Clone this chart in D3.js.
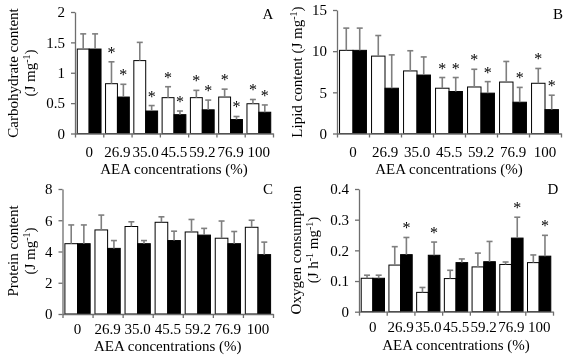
<!DOCTYPE html>
<html>
<head>
<meta charset="utf-8">
<script src="https://cdn.jsdelivr.net/npm/d3@7"></script>
<style>
  html, body { margin: 0; padding: 0; background: #fff; }
  svg { display: block; will-change: transform; }
  text { font-family: "Liberation Serif", "Times New Roman", serif; fill: #000; }
</style>
</head>
<body>
<svg id="chart" width="565" height="357"></svg>
<script>
const categories = ["0", "26.9", "35.0", "45.5", "59.2", "76.9", "100"];
const series = ["control", "treated"];

// Panel A: carbohydrate content
const carbMean  = [[1.39, 0.82, 1.20, 0.59, 0.59, 0.60, 0.49], [1.39, 0.60, 0.37, 0.31, 0.39, 0.23, 0.35]];
const carbErr   = [[0.25, 0.36, 0.30, 0.18, 0.12, 0.13, 0.07], [0.25, 0.21, 0.09, 0.06, 0.16, 0.05, 0.12]];
const carbSig   = [[0, 1, 0, 1, 1, 1, 1], [0, 1, 1, 1, 1, 1, 1]];
const carbTicks = [0, 0.5, 1, 1.5, 2];

// Panel B: lipid content
const lipidMean  = [[10.1, 9.4, 7.6, 5.5, 5.65, 6.25, 6.1], [10.1, 5.5, 7.1, 5.1, 4.9, 3.8, 2.9]];
const lipidErr   = [[2.7, 2.5, 2.45, 1.3, 2.15, 2.5, 1.8], [2.7, 4.05, 2.2, 1.7, 1.4, 1.8, 1.75]];
const lipidSig   = [[0, 0, 0, 1, 1, 0, 1], [0, 0, 0, 1, 1, 1, 1]];
const lipidTicks = [0, 5, 10, 15];

// Panel C: protein content
const protMean  = [[4.5, 5.38, 5.6, 5.87, 5.25, 4.85, 5.55], [4.5, 4.2, 4.5, 4.7, 5.05, 4.5, 3.8]];
const protErr   = [[1.2, 0.95, 0.3, 0.35, 0.8, 1.1, 0.45], [1.2, 0.5, 0.2, 0.6, 0.43, 0.78, 0.8]];
const protSig   = [[0, 0, 0, 0, 0, 0, 0], [0, 0, 0, 0, 0, 0, 0]];
const protTicks = [0, 2, 4, 6, 8];

// Panel D: oxygen consumption
const oxyMean  = [[0.109, 0.152, 0.063, 0.108, 0.146, 0.154, 0.160], [0.109, 0.186, 0.184, 0.160, 0.163, 0.240, 0.181]];
const oxyErr   = [[0.010, 0.060, 0.016, 0.027, 0.045, 0.008, 0.025], [0.010, 0.056, 0.043, 0.012, 0.066, 0.068, 0.068]];
const oxySig   = [[0, 0, 0, 0, 0, 0, 0], [0, 1, 1, 0, 0, 1, 1]];
const oxyTicks = [0, 0.1, 0.2, 0.3, 0.4];

const xTitle = "AEA concentrations (%)";

const panels = [
  { letter: "A", mean: carbMean, err: carbErr, sig: carbSig, ticks: carbTicks,
    x0: 75, x1: 273, yTop: 12, yBot: 133.5, lx: 268, ly: 19,
    ylab: [{t: "Carbohydrate content"}, {t: "(J mg", sup: "-1", t2: ")"}], labX: [18, 35], labY: 73,
    xlY: 157, xtY: 174 },
  { letter: "B", mean: lipidMean, err: lipidErr, sig: lipidSig, ticks: lipidTicks,
    x0: 337, x1: 561, yTop: 10, yBot: 133.5, lx: 558, ly: 19,
    ylab: [{t: "Lipid content (J mg", sup: "-1", t2: ")"}], labX: [302], labY: 72,
    xlY: 157, xtY: 174 },
  { letter: "C", mean: protMean, err: protErr, sig: protSig, ticks: protTicks,
    x0: 62.5, x1: 273, yTop: 189, yBot: 314, lx: 268, ly: 194,
    ylab: [{t: "Protein content"}, {t: "(J mg", sup: "-1", t2: ")"}], labX: [18, 35], labY: 251,
    xlY: 334, xtY: 351 },
  { letter: "D", mean: oxyMean, err: oxyErr, sig: oxySig, ticks: oxyTicks,
    x0: 359, x1: 553, yTop: 189, yBot: 311.7, lx: 553, ly: 194,
    ylab: [{t: "Oxygen consumption"}, {t: "(J h", sup: "-1", t2: " mg", sup2: "-1", t3: ")"}], labX: [301, 318], labY: 250,
    xlY: 332, xtY: 350 }
];

const svg = d3.select("#chart");
const FS = 15;
const axisColor = "#6e6e6e";
const errColor = "#7f7f7f";
const fmt = d3.format("~g");

panels.forEach(p => {
  const g = svg.append("g");
  const x = d3.scaleBand().domain(categories).range([p.x0, p.x1]).paddingInner(0).paddingOuter(0);
  const xs = d3.scaleBand().domain(series).range([0, x.bandwidth()]).paddingInner(0).paddingOuter(0.19);
  const xb = d3.scaleLinear().domain([0, categories.length]).range([p.x0, p.x1]);
  const y = d3.scaleLinear().domain([p.ticks[0], p.ticks[p.ticks.length - 1]]).range([p.yBot, p.yTop]);

  // bars
  series.forEach((s, si) => {
    const data = categories.map((c, ci) => ({ c, v: p.mean[si][ci], e: p.err[si][ci], sig: p.sig[si][ci] }));
    const gs = g.append("g");
    gs.selectAll("rect").data(data).join("rect")
      .attr("x", d => x(d.c) + xs(s))
      .attr("y", d => y(d.v))
      .attr("width", xs.bandwidth())
      .attr("height", d => y(0) - y(d.v))
      .attr("fill", si === 0 ? "#fff" : "#000")
      .attr("stroke", "#000")
      .attr("stroke-width", 1);
    // error bars
    gs.selectAll("line.err").data(data).join("line").attr("class", "err")
      .attr("x1", d => x(d.c) + xs(s) + xs.bandwidth() / 2)
      .attr("x2", d => x(d.c) + xs(s) + xs.bandwidth() / 2)
      .attr("y1", d => y(d.v))
      .attr("y2", d => y(d.v + d.e))
      .attr("stroke", errColor).attr("stroke-width", 1.6);
    gs.selectAll("line.cap").data(data).join("line").attr("class", "cap")
      .attr("x1", d => x(d.c) + xs(s) + xs.bandwidth() / 2 - 3)
      .attr("x2", d => x(d.c) + xs(s) + xs.bandwidth() / 2 + 3)
      .attr("y1", d => y(d.v + d.e))
      .attr("y2", d => y(d.v + d.e))
      .attr("stroke", errColor).attr("stroke-width", 1.6);
    gs.selectAll("text.sig").data(data.filter(d => d.sig)).join("text").attr("class", "sig")
      .attr("x", d => x(d.c) + xs(s) + xs.bandwidth() / 2)
      .attr("y", d => y(d.v + d.e) - 4)
      .attr("text-anchor", "middle")
      .attr("font-size", 16)
      .text("*");
  });

  // y axis
  const ya = g.append("g").attr("transform", `translate(${p.x0},0)`)
    .call(d3.axisLeft(y).tickValues(p.ticks).tickFormat(fmt).tickSize(4).tickSizeOuter(0).tickPadding(6));
  ya.select(".domain").attr("stroke", axisColor).attr("stroke-width", 1.3);
  ya.selectAll(".tick line").attr("stroke", axisColor).attr("stroke-width", 1.3);
  ya.selectAll(".tick text").attr("font-size", FS).attr("font-family", "Liberation Serif").attr("fill", "#000");

  // x axis: boundary ticks
  const xa = g.append("g").attr("transform", `translate(0,${p.yBot})`)
    .call(d3.axisBottom(xb).tickValues(d3.range(categories.length + 1)).tickSize(4).tickSizeOuter(0).tickFormat(""));
  xa.select(".domain").attr("stroke", axisColor).attr("stroke-width", 1.3);
  xa.selectAll(".tick line").attr("stroke", axisColor).attr("stroke-width", 1.3);

  // category labels
  g.append("g").selectAll("text").data(categories).join("text")
    .attr("x", c => x(c) + x.bandwidth() / 2)
    .attr("y", p.xlY)
    .attr("text-anchor", "middle")
    .attr("font-size", FS)
    .text(c => c);

  // x title
  g.append("text")
    .attr("x", (p.x0 + p.x1) / 2)
    .attr("y", p.xtY)
    .attr("text-anchor", "middle")
    .attr("font-size", FS)
    .text(xTitle);

  // panel letter
  g.append("text").attr("x", p.lx).attr("y", p.ly).attr("text-anchor", "middle").attr("font-size", FS).text(p.letter);

  // y title
  p.ylab.forEach((l, i) => {
    const t = g.append("text")
      .attr("transform", `translate(${p.labX[i]},${p.labY}) rotate(-90)`)
      .attr("text-anchor", "middle")
      .attr("font-size", FS);
    t.append("tspan").text(l.t);
    if (l.sup) t.append("tspan").attr("font-size", 10).attr("dy", -5).text(l.sup);
    if (l.t2) t.append("tspan").attr("dy", 5).text(l.t2);
    if (l.sup2) t.append("tspan").attr("font-size", 10).attr("dy", -5).text(l.sup2);
    if (l.t3) t.append("tspan").attr("dy", 5).text(l.t3);
  });
});
</script>
</body>
</html>
